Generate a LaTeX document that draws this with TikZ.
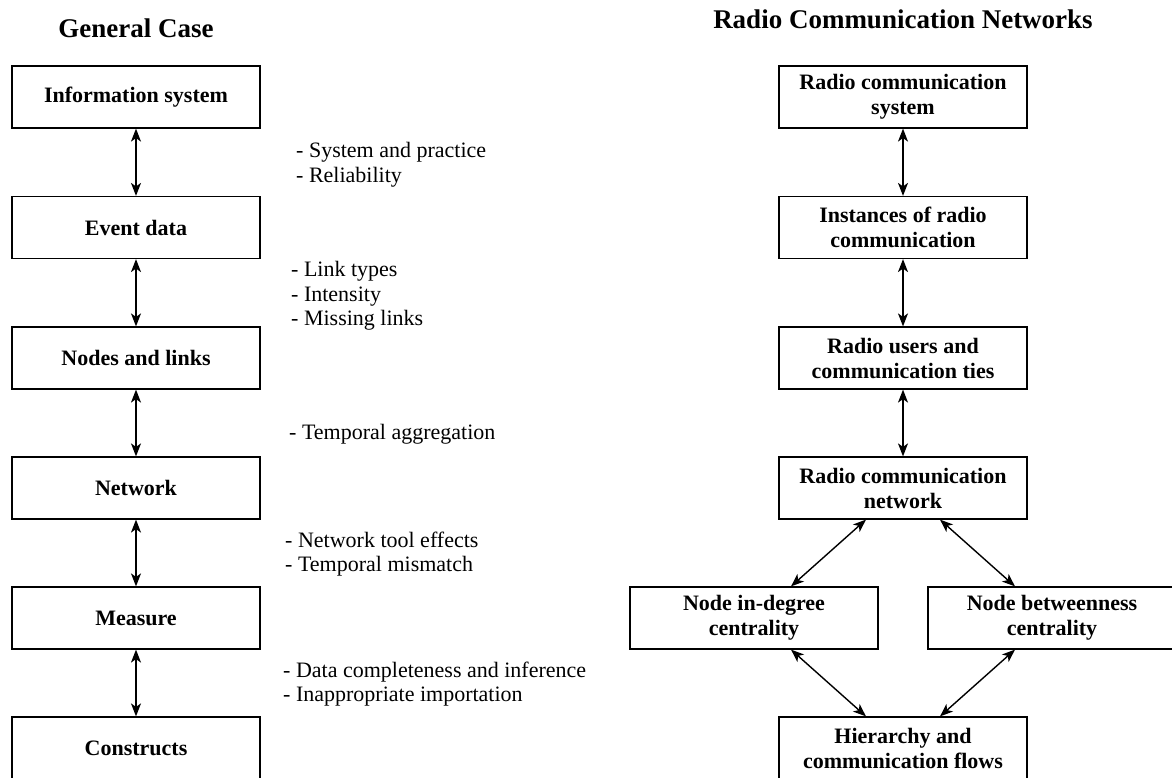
\documentclass[tikz,border=0pt]{standalone}
\usepackage{fontspec}
\setmainfont{Liberation Serif}
\usetikzlibrary{arrows.meta}
\begin{document}
\begin{tikzpicture}[x=1bp,y=-1bp,
  box/.style={draw, line width=1.2bp, minimum width=248bp, minimum height=62bp,
    inner sep=0pt, align=center, font=\fontsize{22bp}{25bp}\selectfont\bfseries},
  note/.style={anchor=west, align=left, inner sep=0pt,
    font=\fontsize{22bp}{24.5bp}\selectfont},
  ttl/.style={inner sep=0pt, font=\fontsize{27bp}{30bp}\selectfont\bfseries},
  link/.style={{Stealth[length=13bp,width=10bp,inset=3.5bp]}-{Stealth[length=13bp,width=10bp,inset=3.5bp]},
    line width=1.4bp}]
\clip (0,0) rectangle (1172,778);
\useasboundingbox (0,0) rectangle (1172,778);
% titles
\node[ttl] (t1) at (136,28) {General Case};
\node[ttl] (t2) at (903,19) {Radio Communication Networks};
% left column
\node[box] (is) at (136,97) {Information system};
\node[box] (ed) at (136,227.5) {Event data};
\node[box] (nl) at (136,358) {Nodes and links};
\node[box] (nw) at (136,488) {Network};
\node[box] (me) at (136,618) {Measure};
\node[box] (co) at (136,748) {Constructs};
\draw[link] (is.south) -- (ed.north);
\draw[link] (ed.south) -- (nl.north);
\draw[link] (nl.south) -- (nw.north);
\draw[link] (nw.south) -- (me.north);
\draw[link] (me.south) -- (co.north);
% notes
\node[note] (n1) at (296,164.5) {- System and practice\\- Reliability};
\node[note] (n2) at (291,296) {- Link types\\- Intensity\\- Missing links};
\node[note] (n3) at (289,434) {- Temporal aggregation};
\node[note] (n4) at (285,554) {- Network tool effects\\- Temporal mismatch};
\node[note] (n5) at (283,684) {- Data completeness and inference\\- Inappropriate importation};
% right column
\node[box] (rs) at (903,97) {Radio communication\\system};
\node[box] (ir) at (903,227.5) {Instances of radio\\communication};
\node[box] (ru) at (903,358) {Radio users and\\communication ties};
\node[box] (rn) at (903,488) {Radio communication\\network};
\node[box] (id) at (754,618) {Node in-degree\\centrality};
\node[box] (bc) at (1052,618) {Node betweenness\\centrality};
\node[box] (hf) at (903,748) {Hierarchy and\\communication flows};
\draw[link] (rs.south) -- (ir.north);
\draw[link] (ir.south) -- (ru.north);
\draw[link] (ru.south) -- (rn.north);
\draw[link] ([xshift=-37bp]rn.south) -- ([xshift=37bp]id.north);
\draw[link] ([xshift=37bp]rn.south) -- ([xshift=-37bp]bc.north);
\draw[link] ([xshift=37bp]id.south) -- ([xshift=-37bp]hf.north);
\draw[link] ([xshift=-37bp]bc.south) -- ([xshift=37bp]hf.north);
\end{tikzpicture}
\end{document}
